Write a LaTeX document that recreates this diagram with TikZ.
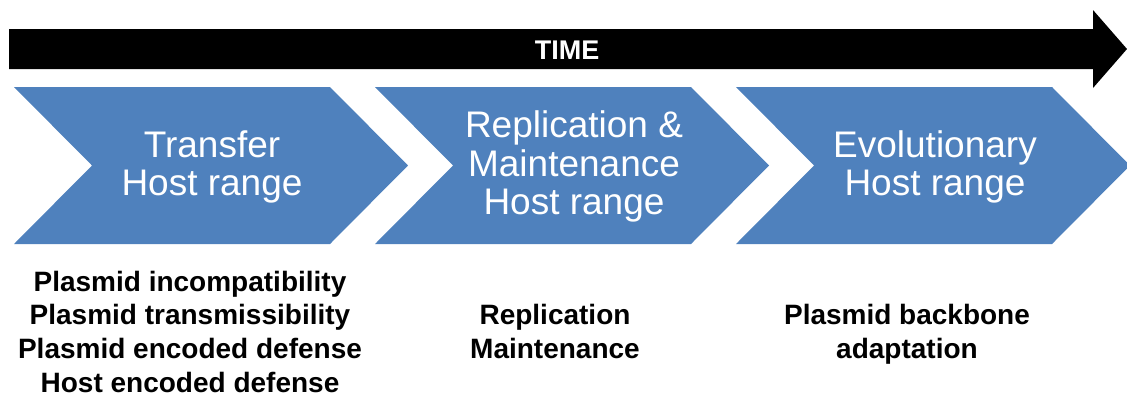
\documentclass[tikz,border=0pt]{standalone}
\usepackage{fontspec}
\setmainfont{Liberation Sans}
\definecolor{chevblue}{HTML}{4F81BD}
\begin{document}
\begin{tikzpicture}[x=1pt,y=-1pt,
  chevron/.style={fill=chevblue,draw=none},
  chevtext/.style={text=white,align=center,font=\fontsize{37}{38}\selectfont,inner sep=0pt},
  bottext/.style={text=black,align=center,font=\bfseries\fontsize{28}{33.7}\selectfont,inner sep=0pt}]
\useasboundingbox (0,0) rectangle (1127,392);
% time arrow
\fill[black] (9,29) -- (1093,29) -- (1093,10) -- (1127,49) -- (1093,88) -- (1093,69) -- (9,69) -- cycle;
\node[text=white,font=\bfseries\fontsize{27}{30}\selectfont,inner sep=0pt] (time) at (567,50) {TIME};
% chevrons
\foreach \x/\n in {14/c1,375/c2,736/c3}{
  \fill[chevron] (\x,87) -- ++(316,0) -- ++(78,78.5) -- ++(-78,78.5) -- ++(-316,0) -- ++(78,-78.5) -- cycle;
}
\node[chevtext] (t1) at (212,168.4) {\strut Transfer\\Host range\strut};
\node[chevtext] (t2) at (574,168) {\strut Replication \&\\Maintenance\\Host range\strut};
\node[chevtext] (t3) at (935,168.4) {\strut Evolutionary\\Host range\strut};
% bottom texts
\node[bottext] (b1) at (190,334.8) {\strut Plasmid incompatibility\\Plasmid transmissibility\\Plasmid encoded defense\\Host encoded defense\strut};
\node[bottext] (b2) at (555,335.1) {\strut Replication\\Maintenance\strut};
\node[bottext] (b3) at (907,335.1) {\strut Plasmid backbone\\adaptation\strut};
\end{tikzpicture}
\end{document}
